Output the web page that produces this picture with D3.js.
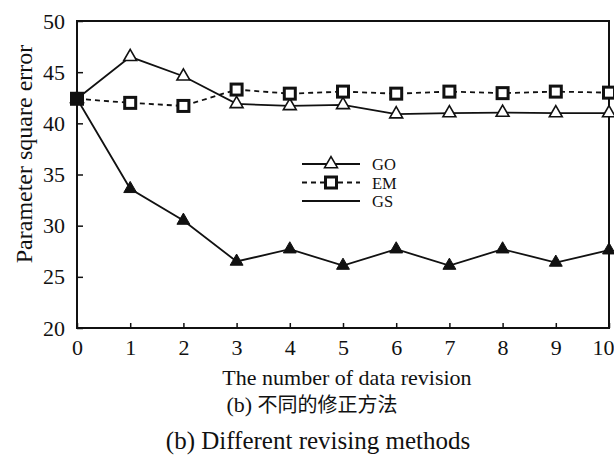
<!DOCTYPE html>
<html>
<head>
	<meta charset="utf-8">
	<title>Different revising methods</title>
	<script src="https://cdn.jsdelivr.net/npm/d3@7"></script>
	<style>
		body { margin: 0; background: #fff; }
		text { font-family: "Liberation Serif", "DejaVu Serif", serif; fill: #111; }
	</style>
</head>
<body>
	<div id="chart"></div>
	<script>

		// data
		const revisions = [0, 1, 2, 3, 4, 5, 6, 7, 8, 9, 10];
		const goValues = [42.4, 46.5, 44.6, 41.9, 41.7, 41.8, 40.9, 41.0, 41.05, 41.0, 41.0];
		const emValues = [42.4, 42.0, 41.7, 43.3, 42.9, 43.1, 42.9, 43.1, 42.95, 43.1, 43.0];
		const gsValues = [42.4, 33.6, 30.5, 26.5, 27.7, 26.1, 27.7, 26.1, 27.7, 26.4, 27.6];
		const yTicks = [20, 25, 30, 35, 40, 45, 50];
		const seriesNames = ["GO", "EM", "GS"];

		const width = 614, height = 455;
		const margin = { top: 21, right: 5, bottom: 127, left: 77 };

		const svg = d3.select("#chart").append("svg")
			.attr("width", width)
			.attr("height", height);

		const x = d3.scaleLinear([0, 10], [margin.left, width - margin.right]);
		const y = d3.scaleLinear([20, 50], [height - margin.bottom, margin.top]);

		// frame
		svg.append("rect")
			.attr("x", x(0)).attr("y", y(50))
			.attr("width", x(10) - x(0)).attr("height", y(20) - y(50))
			.attr("fill", "none").attr("stroke", "#111").attr("stroke-width", 2);

		// axes, ticks pointing inward
		svg.append("g")
			.attr("transform", `translate(0,${y(20)})`)
			.call(d3.axisBottom(x).tickValues(revisions).tickSizeInner(-5).tickSizeOuter(0).tickPadding(11))
			.call(g => g.select(".domain").remove())
			.call(g => g.selectAll(".tick line").attr("stroke", "#111").attr("stroke-width", 1.5))
			.call(g => g.selectAll(".tick text").style("font-size", "22px").attr("font-family", null))
			// keep the last label inside the picture, as in the original
			.call(g => g.selectAll(".tick text").filter(d => d === 10).attr("text-anchor", "end").attr("x", 5));

		svg.append("g")
			.attr("transform", `translate(${x(0)},0)`)
			.call(d3.axisLeft(y).tickValues(yTicks).tickSizeInner(-6).tickSizeOuter(0).tickPadding(12))
			.call(g => g.select(".domain").remove())
			.call(g => g.selectAll(".tick line").attr("stroke", "#111").attr("stroke-width", 1.5))
			.call(g => g.selectAll(".tick text").style("font-size", "22px").attr("font-family", null));

		// axis titles and captions
		svg.append("text")
			.attr("transform", "translate(32,154) rotate(-90)")
			.attr("text-anchor", "middle")
			.style("font-size", "24px")
			.text("Parameter square error");

		svg.append("text")
			.attr("x", 347).attr("y", 385)
			.attr("text-anchor", "middle")
			.style("font-size", "22px")
			.text("The number of data revision");

		svg.append("text")
			.attr("x", 312).attr("y", 412)
			.attr("text-anchor", "middle")
			.style("font-size", "22px")
			.call(t => t.append("tspan").text("(b) "))
			.call(t => t.append("tspan").style("font-family", "'Noto Sans CJK SC'").style("font-size", "20px").text("不同的修正方法"));

		svg.append("text")
			.attr("x", 318).attr("y", 449)
			.attr("text-anchor", "middle")
			.style("font-size", "25px")
			.text("(b) Different revising methods");

		// lines
		const line = d3.line().x((d, i) => x(revisions[i])).y(d => y(d));

		svg.append("path").datum(gsValues)
			.attr("d", line).attr("fill", "none").attr("stroke", "#111").attr("stroke-width", 1.8);
		svg.append("path").datum(goValues)
			.attr("d", line).attr("fill", "none").attr("stroke", "#111").attr("stroke-width", 1.8);
		svg.append("path").datum(emValues)
			.attr("d", line).attr("fill", "none").attr("stroke", "#111").attr("stroke-width", 1.8)
			.attr("stroke-dasharray", "5,4");

		// markers
		const tri = d3.symbol(d3.symbolTriangle, 72);
		const sq = 11;

		svg.append("g").selectAll("path")
			.data(gsValues).join("path")
			.attr("transform", (d, i) => `translate(${x(revisions[i])},${y(d)})`)
			.attr("d", tri).attr("fill", "#111").attr("stroke", "#111").attr("stroke-width", 1);

		svg.append("g").selectAll("path")
			.data(goValues).join("path")
			.attr("transform", (d, i) => `translate(${x(revisions[i])},${y(d)})`)
			.attr("d", tri).attr("fill", "#fff").attr("stroke", "#111").attr("stroke-width", 1.6);

		svg.append("g").selectAll("rect")
			.data(emValues).join("rect")
			.attr("x", (d, i) => x(revisions[i]) - sq / 2)
			.attr("y", d => y(d) - sq / 2)
			.attr("width", sq).attr("height", sq)
			.attr("fill", (d, i) => i === 0 ? "#111" : "#fff")
			.attr("stroke", "#111").attr("stroke-width", 3);

		// legend
		const rowGap = 18.5;
		const legend = svg.append("g").attr("transform", "translate(302,164)");
		seriesNames.forEach((name, k) => {
			const row = legend.append("g").attr("transform", `translate(0,${k * rowGap})`);
			row.append("line")
				.attr("x1", 0).attr("x2", 58).attr("y1", 0).attr("y2", 0)
				.attr("stroke", "#111").attr("stroke-width", 1.8)
				.attr("stroke-dasharray", name === "EM" ? "5,4" : null);
			if (name === "GO") row.append("path").attr("transform", "translate(29,0)")
				.attr("d", tri).attr("fill", "#fff").attr("stroke", "#111").attr("stroke-width", 1.6);
			if (name === "EM") row.append("rect").attr("x", 29 - sq / 2).attr("y", -sq / 2)
				.attr("width", sq).attr("height", sq)
				.attr("fill", "#fff").attr("stroke", "#111").attr("stroke-width", 3);
			row.append("text")
				.attr("x", 70).attr("y", 6)
				.style("font-size", "16.5px")
				.text(name);
		});

	</script>
</body>
</html>
